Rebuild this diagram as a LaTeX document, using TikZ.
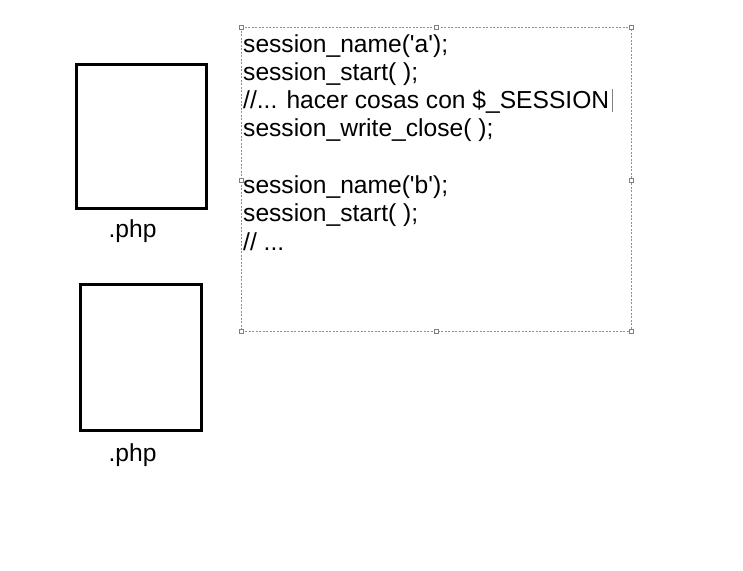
\documentclass[tikz,border=0pt]{standalone}
\usepackage{fontspec}
\setmainfont{Liberation Sans}
\definecolor{selblue}{RGB}{90,155,225}
\newcommand{\sq}{\textquotesingle}
\begin{document}
\begin{tikzpicture}[x=1pt,y=-1pt,
  phpbox/.style={draw=black,line width=3pt},
  codeline/.style={anchor=base west,inner sep=0pt,font=\fontsize{24.6}{28.3}\selectfont},
  phplabel/.style={anchor=base,inner sep=0pt,font=\fontsize{24.6}{28.3}\selectfont},
  selframe/.style={draw=selblue,line width=1pt,dash pattern=on 2pt off 1.5pt},
  handle/.style={draw=gray,fill=white,line width=0.5pt,minimum size=4pt,inner sep=0pt,rectangle}]
\useasboundingbox (0,0) rectangle (743,570);
% php boxes
\draw[phpbox] (76,64) rectangle (206,208);
\draw[phpbox] (80.5,284) rectangle (201.5,430);
\node[phplabel] (l1) at (132.5,237) {.php};
\node[phplabel] (l2) at (132.5,461.5) {.php};
% selection frame
\draw[selframe] (241,27) rectangle (631,331);
\foreach \p in {(241,27),(436,27),(631,27),(241,180),(631,180),(241,331),(436,331),(631,331)}
  \node[handle] at \p {};
% code lines
\node[codeline] (c1) at (243,52) {session\_name(\sq a\sq);};
\node[codeline] (c2) at (243,80.3) {session\_start( );};
\node[codeline] (c3) at (243,108.6) {//... hacer cosas con \$\_SESSION};
\node[codeline] (c4) at (243,136.9) {session\_write\_close( );};
\node[codeline] (c5) at (243,193.5) {session\_name(\sq b\sq);};
\node[codeline] (c6) at (243,221.8) {session\_start( );};
\node[codeline] (c7) at (243,250.1) {// ...};
% text cursor
\draw[gray,line width=0.8pt] (612,89) -- (612,112);
\end{tikzpicture}
\end{document}
